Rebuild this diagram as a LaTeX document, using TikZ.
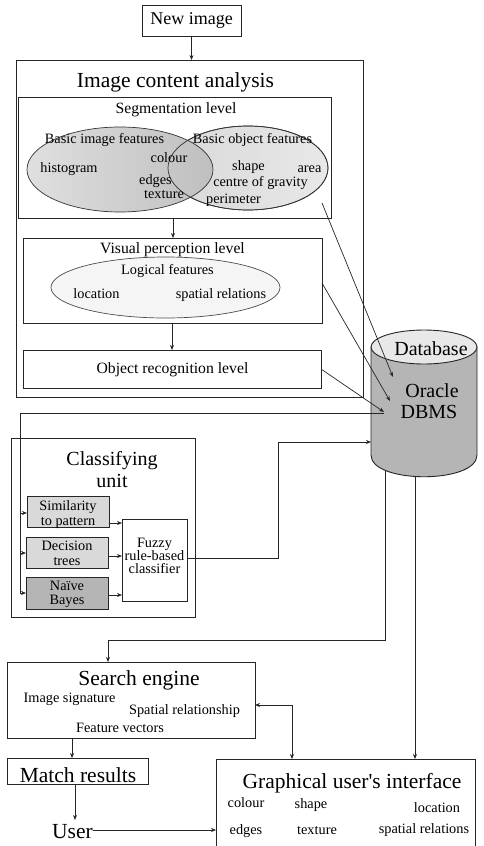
\documentclass[tikz,border=0pt]{standalone}
\usepackage{fontspec}
\setmainfont{Liberation Serif}
\usetikzlibrary{arrows.meta,shapes.geometric}
\begin{document}
\begin{tikzpicture}[x=1pt,y=-1pt,
  every node/.style={inner sep=0pt, outer sep=0pt},
  box/.style={draw=black!85, line width=0.9pt},
  conn/.style={draw=black!85, line width=0.7pt},
  arr/.style={conn, -{Stealth[length=5pt,width=4pt]}},
  arrb/.style={conn, {Stealth[length=5pt,width=4pt]}-{Stealth[length=5pt,width=4pt]}},
  big/.style={font=\fontsize{21.5}{24}\selectfont},
  med/.style={font=\fontsize{15.7}{18}\selectfont},
  sm/.style={font=\fontsize{14.3}{15}\selectfont},
  mid/.style={font=\fontsize{20}{22}\selectfont},
  lbl/.style={anchor=base},
]
\useasboundingbox (0,0) rectangle (484,846);
\clip (0,0) rectangle (484,846);
\fill[white] (0,0) rectangle (484,846);

% New image
\node[box, minimum width=99pt, minimum height=31pt, font=\fontsize{18}{20}\selectfont] (newimg) at (191.5,20.5) {New image};

% Image content analysis
\node[box, minimum width=347pt, minimum height=337pt] (ica) at (189.5,228.5) {};
\node[big,lbl] (icat) at (175.5,87) {Image content analysis};

% Segmentation level
\node[box, minimum width=313pt, minimum height=121pt] (seg) at (174.5,157.5) {};
\node[med,lbl] (segt) at (176,113) {Segmentation level};
\node[ellipse, draw=black!80, line width=0.7pt, minimum width=160pt, minimum height=84pt, left color=gray!30, right color=gray!18] (e2) at (248,168) {};
\node[ellipse, draw=black!80, line width=0.7pt, minimum width=186pt, minimum height=85pt, left color=gray!25, right color=gray!50] (e1) at (120,169.5) {};
\draw[black!80, line width=0.7pt] (248,168) ellipse [x radius=80, y radius=42];
\node[sm,lbl] (t1) at (104.5,143) {Basic image features};
\node[sm,lbl] (t2) at (169,162) {colour};
\node[sm,lbl] (t3) at (69,172) {histogram};
\node[sm,lbl] (t4) at (155.5,184) {edges};
\node[sm,lbl] (t5) at (164,198) {texture};
\node[sm,lbl] (t6) at (252.5,143) {Basic object features};
\node[sm,lbl] (t7) at (248.5,170) {shape};
\node[sm,lbl] (t8) at (309.5,172) {area};
\node[sm,lbl] (t9) at (260.5,186) {centre of gravity};
\node[sm,lbl] (t10) at (233.5,203) {perimeter};

% Visual perception level
\node[box, minimum width=299pt, minimum height=85pt] (vis) at (172.5,280.5) {};
\node[med,lbl] (vist) at (172.5,253) {Visual perception level};
\node[ellipse, draw=black!70, line width=0.7pt, fill=gray!8, minimum width=229pt, minimum height=61pt] (e3) at (165.5,287.5) {};
\node[sm,lbl] (t11) at (167.5,274) {Logical features};
\node[sm,lbl] (t12) at (96.5,298) {location};
\node[sm,lbl] (t13) at (221,298) {spatial relations};

% Object recognition level
\node[box, minimum width=298pt, minimum height=38pt] (obj) at (172,369) {};
\node[med,lbl] (objt) at (172.5,373) {Object recognition level};

% Classifying unit
\node[box, minimum width=184pt, minimum height=179pt] (cls) at (103,527.5) {};
\node[mid,lbl] (clst1) at (112,465) {Classifying};
\node[mid,lbl] (clst2) at (112,487) {unit};
\node[box, fill=gray!30, minimum width=82pt, minimum height=31pt] (sim) at (68,511.5) {};
\node[sm,lbl] (sim1) at (68,510) {Similarity};
\node[sm,lbl] (sim2) at (68,525) {to pattern};
\node[box, fill=gray!30, minimum width=82pt, minimum height=31pt] (dec) at (67,552.5) {};
\node[sm,lbl] (dec1) at (67,550) {Decision};
\node[sm,lbl] (dec2) at (67,565) {trees};
\node[box, fill=gray!58, minimum width=82pt, minimum height=32pt] (nb) at (67,593) {};
\node[sm,lbl] (nb1) at (67,590) {Naïve};
\node[sm,lbl] (nb2) at (67,604) {Bayes};
\node[box, fill=white, minimum width=65pt, minimum height=82pt] (fuz) at (154.5,560) {};
\node[sm,lbl] (fuz1) at (154.5,547) {Fuzzy};
\node[sm,lbl] (fuz2) at (154.5,560) {rule-based};
\node[sm,lbl] (fuz3) at (154.5,573) {classifier};

% Search engine
\node[box, minimum width=248pt, minimum height=76pt] (search) at (131,700) {};
\node[big,lbl] (searcht) at (139,685) {Search engine};
\node[sm,lbl] (s1) at (69.5,702) {Image signature};
\node[sm,lbl] (s2) at (184.5,714) {Spatial relationship};
\node[sm,lbl] (s3) at (120,732) {Feature vectors};

% Match results, User
\node[box, minimum width=141pt, minimum height=26pt] (match) at (77.5,771) {};
\node[big,lbl] (matcht) at (78,782) {Match results};
\node[big,lbl] (user) at (72.5,838) {User};

% GUI
\node[box, minimum width=259pt, minimum height=120pt] (gui) at (345.5,819) {};
\node[big,lbl] (guit) at (352,788) {Graphical user\textquotesingle s interface};
\node[sm,lbl] (g1) at (246,807) {colour};
\node[sm,lbl] (g2) at (311,808) {shape};
\node[sm,lbl] (g3) at (437,812) {location};
\node[sm,lbl] (g4) at (246,834) {edges};
\node[sm,lbl] (g5) at (317,834) {texture};
\node[sm,lbl] (g6) at (424,833) {spatial relations};

% coordinates
\coordinate (dbL) at (385,466);
\coordinate (dbR) at (415,472);
\coordinate (dbA) at (393,377);
\coordinate (dbB) at (390,401);
\coordinate (dbC) at (384,412);
\coordinate (dbD) at (371,442);
\coordinate (segout) at (322,203);
\coordinate (fbk) at (20,413);

% lines out of the database (under it)
\draw[arr] (dbL) -- (385,640) -| (search.north -| 108,0);
\draw[arr] (dbR) -- (gui.north -| dbR);

% Database cylinder
\path[draw=black!85, line width=0.9pt, fill=gray!58] (371,347) -- (371,455) .. controls (371,484) and (477,484) .. (477,455) -- (477,347) -- cycle;
\draw[draw=black!85, line width=0.9pt, fill=gray!18] (424,347) ellipse [x radius=53, y radius=17];
\node[mid,lbl] (dbt) at (431,355) {Database};
\node[mid,lbl] (dbo) at (432,397) {Oracle};
\node[mid,lbl] (dbd) at (429,418) {DBMS};

% connectors
\draw[arr] (newimg.south) -- (ica.north -| newimg.south);
\draw[arr] (seg.south -| 173,0) -- (vis.north -| 173,0);
\draw[arr] (vis.south -| 172,0) -- (obj.north -| 172,0);
\draw[arr] (segout) -- (dbA);
\draw[arr] (vis.east |- 0,283) -- (dbB);
\draw[arr] (obj.east) -- (dbC);
\draw[conn] (dbC |- fbk) -- (fbk) -- (20,593);
\draw[arr] (fbk |- 0,513) -- (sim.west |- 0,513);
\draw[arr] (fbk |- 0,553) -- (dec.west |- 0,553);
\draw[arr] (fbk |- 0,593) -- (nb.west |- 0,593);
\draw[arr] (sim.east |- 0,523) -- (fuz.west |- 0,523);
\draw[arr] (dec.east |- 0,556) -- (fuz.west |- 0,556);
\draw[arr] (nb.east |- 0,595) -- (fuz.west |- 0,595);
\draw[arr] (fuz.east |- 0,558) -- (278,558) -- (278,442) -- (dbD);
\draw[arrb] (search.east |- 0,705) -- (292,705) -- (gui.north -| 292,0);
\draw[arr] (search.south -| 72,0) -- (match.north -| 72,0);
\draw[arr, shorten >=4pt] (match.south -| 75,0) -- (user.north -| 75,0);
\draw[arr] (user.east |- 0,830) -- (gui.west |- 0,830);
\end{tikzpicture}
\end{document}
